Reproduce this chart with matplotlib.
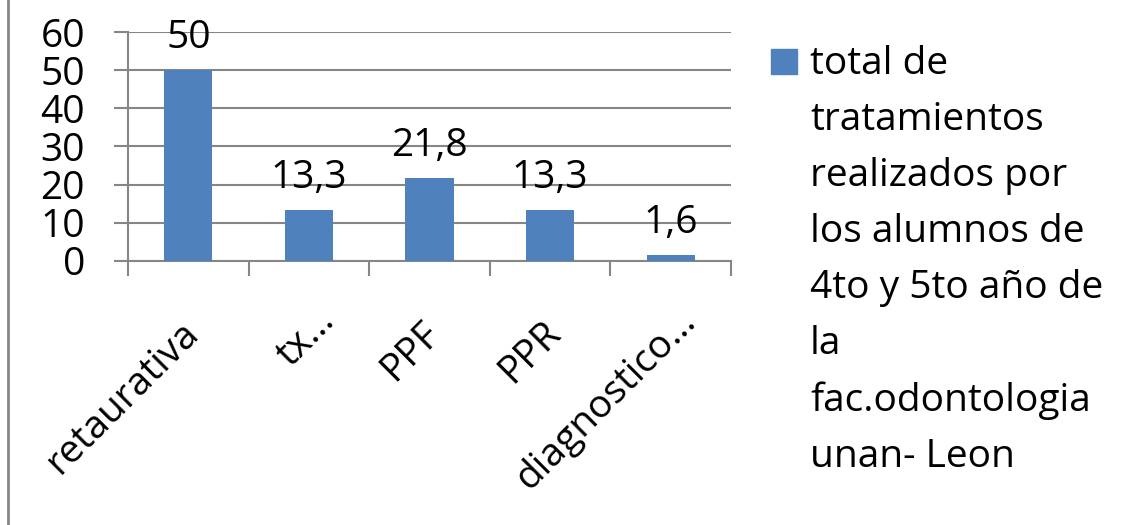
import matplotlib.pyplot as plt
import matplotlib.transforms as mtransforms
from matplotlib.lines import Line2D
from matplotlib.patches import Rectangle

plt.rcParams['font.family'] = ['Open Sans', 'DejaVu Sans']

categories = ['retaurativa', 'tx…', 'PPF', 'PPR', 'diagnostico…']
values = [50, 13.3, 21.8, 13.3, 1.6]
value_labels = ['50', '13,3', '21,8', '13,3', '1,6']
series_name = 'total de\ntratamientos\nrealizados por\nlos alumnos de\n4to y 5to año de\nla\nfac.odontologia\nunan- Leon'

grey = '#868686'
blue = '#4f81bd'
fs = 28

fig = plt.figure(figsize=(11.25, 5.25), dpi=100)
ax = fig.add_axes([0.1138, 0.503, 0.536, 0.436])

x = range(len(categories))
bars = ax.bar(x, values, width=0.4, color=blue, zorder=3)
for b, lab in zip(bars, value_labels):
    ax.annotate(lab, (b.get_x() + b.get_width() / 2, b.get_height()),
                xytext=(0, 16), textcoords='offset points',
                ha='center', va='baseline', fontsize=fs, zorder=4)

ax.set_ylim(0, 60)
ax.set_xlim(-0.5, len(categories) - 0.5)
ax.set_yticks(range(0, 61, 10))
ax.yaxis.grid(True, color=grey, linewidth=1.5, zorder=0)
ax.tick_params(axis='y', labelsize=fs, length=10, width=1.5, color=grey, pad=21)

ax.set_xticks(list(x))
ax.set_xticklabels(categories, rotation=45, ha='right', va='center',
                   rotation_mode='anchor', fontsize=fs)
ax.tick_params(axis='x', which='major', length=0, pad=48)
# labels cut with an ellipsis sit a bit higher and further right in the original
for lab in ax.get_xticklabels():
    dx = 0.2 if lab.get_text().endswith('…') else 0.05
    dy = 0.12 if lab.get_text().endswith('…') else 0.0
    shift = mtransforms.ScaledTranslation(dx, dy, fig.dpi_scale_trans)
    lab.set_transform(lab.get_transform() + shift)
ax.set_xticks([i - 0.5 for i in range(len(categories) + 1)], minor=True)
ax.tick_params(axis='x', which='minor', length=11, width=1.5, color=grey)

for s in ['top', 'right']:
    ax.spines[s].set_visible(False)
for s in ['left', 'bottom']:
    ax.spines[s].set_color(grey)
    ax.spines[s].set_linewidth(1.5)

# legend: square key + wrapped series name
fig.add_artist(Rectangle((771 / 1125, 1 - 74 / 525), 26 / 1125, 25 / 525,
                         transform=fig.transFigure, color=blue))
fig.text(810 / 1125, 1 - 45 / 525, series_name, ha='left', va='top',
         fontsize=fs, linespacing=1.62)

# chart area border on the left
fig.add_artist(Line2D([0.007, 0.007], [0, 1], transform=fig.transFigure, color=grey, linewidth=2))

fig.savefig('out.png', dpi=100)
